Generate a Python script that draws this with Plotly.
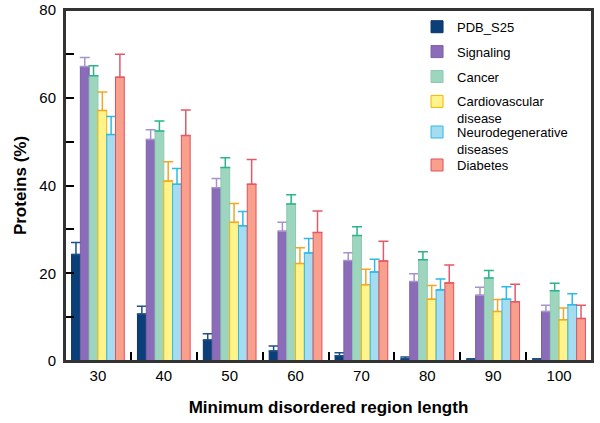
import plotly.graph_objects as go

categories = ["30", "40", "50", "60", "70", "80", "90", "100"]
series_names = ["PDB_S25", "Signaling", "Cancer", "Cardiovascular<br>disease",
                "Neurodegenerative<br>diseases", "Diabetes"]

pdb_s25 = [24.3, 10.7, 4.8, 2.3, 1.2, 0.5, 0.3, 0.2]
pdb_s25_err = [2.7, 1.8, 1.4, 1.1, 0.7, 0.4, 0.2, 0.3]
signaling = [67.1, 50.5, 39.5, 29.6, 22.9, 18.1, 15.0, 11.3]
signaling_err = [2.1, 2.2, 2.1, 2.0, 1.8, 1.8, 1.8, 1.4]
cancer = [65.0, 52.4, 44.1, 35.8, 28.6, 23.1, 18.9, 16.0]
cancer_err = [2.3, 2.3, 2.2, 2.1, 2.0, 1.8, 1.7, 1.7]
cardio = [57.1, 41.0, 31.6, 22.2, 17.4, 14.1, 11.3, 9.4]
cardio_err = [4.2, 4.4, 4.3, 3.6, 3.5, 3.1, 2.7, 2.7]
neuro = [51.6, 40.3, 30.8, 24.6, 20.3, 16.2, 14.1, 12.8]
neuro_err = [4.1, 3.6, 3.3, 3.3, 2.9, 2.5, 2.8, 2.5]
diabetes = [64.7, 51.4, 40.3, 29.3, 22.8, 17.8, 13.5, 9.7]
diabetes_err = [5.2, 5.8, 5.6, 4.9, 4.5, 4.1, 4.0, 3.0]

values = [pdb_s25, signaling, cancer, cardio, neuro, diabetes]
errors = [pdb_s25_err, signaling_err, cancer_err, cardio_err, neuro_err, diabetes_err]
fills = ["#0b3f7a", "#8b6cb8", "#9dd5be", "#fff48c", "#a6dcf0", "#f9a08c"]
edges = ["#0a3566", "#7a5fa8", "#8ccab0", "#f5b400", "#2bbbe6", "#e05060"]
errcols = ["#1f4f85", "#a792cc", "#2bb38a", "#f5a623", "#2bbbe6", "#e05a6a"]
legend_ids = ["legend", "legend", "legend", "legend", "legend2", "legend3"]

fig = go.Figure()
for i, (name, v, e, fc, ec, erc, lg) in enumerate(
        zip(series_names, values, errors, fills, edges, errcols, legend_ids)):
    fig.add_trace(go.Bar(
        x=categories, y=v, name=name, legendgroup=f"g{i}", legend=lg,
        marker=dict(color=fc, line=dict(color=ec, width=1)),
        error_y=dict(type="data", array=e, symmetric=False, arrayminus=[0] * len(e),
                     color=erc, thickness=1.5, width=5),
    ))

leg_common = dict(xanchor="left", yanchor="top", font=dict(size=13),
                  bgcolor="rgba(0,0,0,0)", tracegroupgap=5, valign="top")

frame_axis = dict(showline=True, linecolor="#333333", linewidth=2, showticklabels=False,
                  ticks="", showgrid=False, zeroline=False, automargin=False)

fig.update_layout(
    width=600, height=423,
    margin=dict(l=65, r=8, t=10, b=62),
    paper_bgcolor="white", plot_bgcolor="white",
    barmode="group", bargap=0.2, bargroupgap=0,
    font=dict(family="Liberation Sans, Arial, sans-serif", color="black", size=14),
    showlegend=True,
    legend=dict(x=0.668, y=0.995, **leg_common),
    legend2=dict(x=0.668, y=0.695, **leg_common),
    legend3=dict(x=0.668, y=0.601, **leg_common),
    xaxis=dict(
        type="category", showline=True, linecolor="#333333", linewidth=2, mirror=True,
        ticks="inside", tickson="boundaries", ticklen=9, tickwidth=1.5, tickcolor="black",
        tickfont=dict(size=15), automargin=False,
        title=dict(text="<b>Minimum disordered region length</b>", font=dict(size=17), standoff=18),
    ),
    yaxis=dict(
        range=[0, 80], dtick=20, showline=True, linecolor="#333333", linewidth=2, mirror=True,
        ticks="inside", ticklen=9, tickwidth=1.5, tickcolor="black",
        minor=dict(dtick=10, ticks="inside", ticklen=9, tickwidth=1.5, tickcolor="black"),
        showgrid=False, zeroline=False, tickfont=dict(size=15), automargin=False,
        ticklabelstandoff=4, ticklabeloverflow="allow",
        title=dict(text="<b>Proteins (%)</b>", font=dict(size=17), standoff=8),
    ),
    xaxis2=dict(overlaying="x", side="top", anchor="y", range=[0, 1], **frame_axis),
    yaxis2=dict(overlaying="y", side="right", anchor="x", range=[0, 1], **frame_axis),
    shapes=[dict(type="rect", xref="paper", yref="paper", x0=0, x1=1, y0=0, y1=1,
                 line=dict(color="#333333", width=2), fillcolor="rgba(0,0,0,0)", layer="above")],
)

fig.write_html("out.html", config={"displayModeBar": False},
               post_script="document.body.style.margin='0px';")
